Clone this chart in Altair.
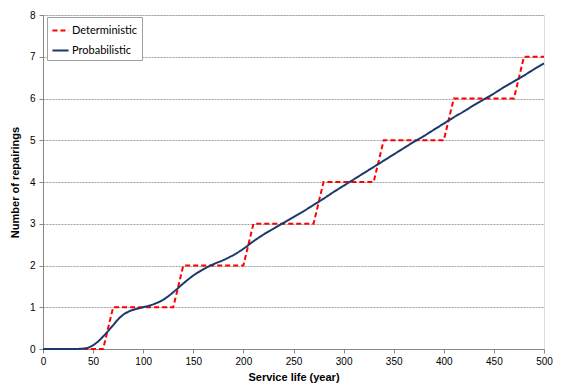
import altair as alt
import pandas as pd

# Deterministic step curve
det_years = [0, 60, 70, 130, 140, 200, 210, 270, 280, 330, 340, 400, 410, 470, 480, 500]
det_values = [0, 0, 1, 1, 2, 2, 3, 3, 4, 4, 5, 5, 6, 6, 7, 7]

# Probabilistic curve
prob_years = [0, 10, 20, 30, 40, 45, 50, 55, 60, 65, 70, 75, 80, 85, 90, 95, 100,
              110, 120, 130, 140, 150, 160, 170, 180, 190, 200, 210, 220, 230, 240,
              250, 260, 270, 280, 290, 300, 310, 320, 330, 340, 350, 360, 370, 380,
              390, 400, 410, 420, 430, 440, 450, 460, 470, 480, 490, 500]
prob_values = [0, 0, 0, 0, 0.01, 0.03, 0.09, 0.18, 0.30, 0.43, 0.57, 0.71, 0.82, 0.89,
               0.94, 0.97, 1.00, 1.07, 1.18, 1.36, 1.57, 1.76, 1.91, 2.03, 2.13, 2.25,
               2.40, 2.58, 2.74, 2.88, 3.02, 3.16, 3.30, 3.45, 3.60, 3.76, 3.91, 4.06,
               4.21, 4.36, 4.51, 4.66, 4.81, 4.96, 5.10, 5.25, 5.40, 5.55, 5.69, 5.84,
               5.98, 6.12, 6.27, 6.41, 6.55, 6.70, 6.84]

series_names = ["Deterministic", "Probabilistic"]
series_colors = ["#FF0000", "#1B3A6B"]

det_df = pd.DataFrame({"year": det_years, "value": det_values, "series": series_names[0]})
prob_df = pd.DataFrame({"year": prob_years, "value": prob_values, "series": series_names[1]})

FONT = "Lato"

x_enc = alt.X("year:Q",
              scale=alt.Scale(domain=[0, 500], nice=False, zero=True),
              axis=alt.Axis(title="Service life (year)", values=list(range(0, 501, 50)),
                            grid=False, tickSize=4, labelPadding=3, titlePadding=5,
                            labelFlush=False))
y_enc = alt.Y("value:Q",
              scale=alt.Scale(domain=[0, 8], nice=False),
              axis=alt.Axis(title="Number of repairings", values=list(range(0, 9)),
                            grid=True, gridDash=[2, 1], gridColor="#a0a0a0",
                            tickSize=4, labelPadding=4, titlePadding=9,
                            labelFlush=False))

legend = alt.Legend(title=None, orient="none", legendX=4, legendY=2,
                    symbolType="stroke", symbolSize=260,
                    symbolStrokeWidth=2, labelFontSize=11,
                    labelFont=FONT, labelColor="#000000",
                    fillColor="white", strokeColor="#a0a0a0",
                    padding=4, rowPadding=5, labelOffset=2)

color_enc = alt.Color("series:N",
                      scale=alt.Scale(domain=series_names, range=series_colors),
                      legend=legend)
dash_enc = alt.StrokeDash("series:N",
                          scale=alt.Scale(domain=series_names, range=[[5, 3], [1, 0]]),
                          legend=legend)

det_line = alt.Chart(det_df).mark_line(strokeWidth=2).encode(
    x=x_enc, y=y_enc, color=color_enc, strokeDash=dash_enc)
prob_line = alt.Chart(prob_df).mark_line(strokeWidth=2, interpolate="monotone").encode(
    x=x_enc, y=y_enc, color=color_enc, strokeDash=dash_enc)

chart = alt.layer(det_line, prob_line).properties(
    width=501, height=334,
    autosize=alt.AutoSizeParams(type="none"),
    padding={"left": 43, "top": 15, "right": 17, "bottom": 42},
).configure_view(
    stroke="#808080", strokeWidth=1
).configure_axis(
    labelFont=FONT, titleFont=FONT, labelFontSize=11, titleFontSize=11,
    labelColor="#000000", titleColor="#000000", titleFontWeight="bold",
    domainColor="#a0a0a0", tickColor="#a0a0a0"
).configure(background="white")

chart.save("out.html", embed_options={"renderer": "svg", "actions": False})
